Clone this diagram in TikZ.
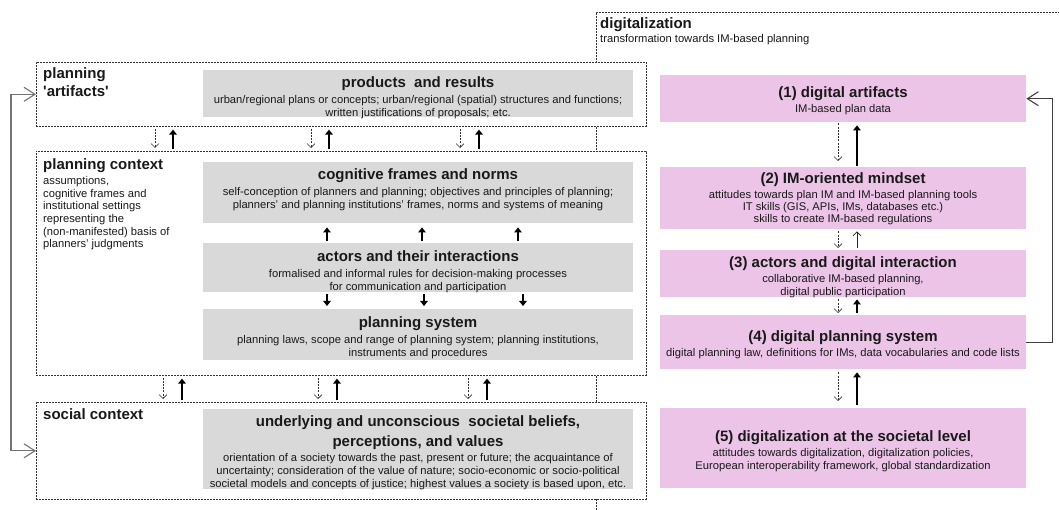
\documentclass[tikz,border=0pt]{standalone}
\usepackage{fontspec}
\setmainfont{Liberation Sans}
\usetikzlibrary{arrows.meta}
\definecolor{pinkbox}{RGB}{236,196,232}
\definecolor{graybox}{RGB}{217,217,217}
\newcommand{\ttl}{\fontsize{15}{17}\selectfont\bfseries}
\newcommand{\sml}{\fontsize{11.2}{13}\selectfont}
\begin{document}
\begin{tikzpicture}[x=1pt,y=-1pt,
  frame/.style={draw=black!80, line width=0.6pt, dash pattern=on 2pt off 1pt, fill=white, inner sep=0pt, anchor=north west},
  gbox/.style={fill=graybox, inner sep=0pt, anchor=north west, minimum width=430pt},
  pbox/.style={fill=pinkbox, inner sep=0pt, anchor=north west, minimum width=366pt},
  txt/.style={align=center, inner sep=0pt, text=black!90, font=\sml},
  lbl/.style={align=left, inner sep=0pt, anchor=north west, text=black!90},
  dn/.style={draw=black!80, line width=0.65pt, dash pattern=on 2pt off 1.2pt, -{Straight Barb[length=4pt,width=8pt]}},
  upk/.style={draw=black, line width=1.8pt, -{Triangle[length=5pt,width=7.5pt]}},
  upt/.style={draw=black!85, line width=0.65pt, -{Straight Barb[length=4pt,width=8pt]}},
  fbl/.style={draw=black!55, line width=1.1pt, {Straight Barb[length=11pt,width=14pt]}-{Straight Barb[length=11pt,width=14pt]}},
  fbr/.style={draw=black!75, line width=1.1pt, -{Straight Barb[length=11pt,width=14pt]}},
  dline/.style={draw=black!80, line width=0.6pt, dash pattern=on 2pt off 1pt}
]
\useasboundingbox (0,0) rectangle (1059,510);
\fill[white] (0,0) rectangle (1059,510);

% digitalization frame
\coordinate (dgB) at (596,510);
\coordinate (dgC) at (596,12);
\coordinate (dgR) at (1059,12);
\draw[dline] (dgB) -- (dgC) -- (dgR);
\node[lbl, anchor=base west, font=\ttl] (dgT) at (600,29) {digitalization};
\node[lbl, anchor=base west, font=\sml] (dgS) at (600,43) {transformation towards IM-based planning};

% left frames
\node[frame, minimum width=610pt, minimum height=64pt] (art) at (36,62) {};
\node[frame, minimum width=610pt, minimum height=224pt] (ctx) at (36,151) {};
\node[frame, minimum width=610pt, minimum height=97pt] (soc) at (36,402) {};

\node[lbl, font=\ttl, anchor=base west] (artL) at (43,97) {planning\\[1pt]\textquotesingle artifacts\textquotesingle};
\node[lbl, font=\ttl, anchor=base west] (ctxL) at (43,170) {planning context};
\node[lbl, font=\sml, anchor=north west] (ctxD) at (43,176) {assumptions,\\[-0.3pt] cognitive frames and\\[-0.3pt] institutional settings\\[-0.3pt] representing the\\[-0.3pt] (non-manifested) basis of\\[-0.3pt] planners' judgments};
\node[lbl, font=\ttl, anchor=base west] (socL) at (43,419) {social context};

% gray boxes
\node[gbox, minimum height=47pt] (prod) at (203,70) {};
\node[gbox, minimum height=61pt] (cog) at (203,162) {};
\node[gbox, minimum height=49pt] (act) at (203,243) {};
\node[gbox, minimum height=51pt] (ps) at (203,309) {};
\node[gbox, minimum height=80pt] (und) at (203,409) {};

\node[txt] (prodT) at (418,98) {{\ttl products\ \ and results}\\[3pt]urban/regional plans or concepts; urban/regional (spatial) structures and functions;\\written justifications of proposals; etc.};
\node[txt] (cogT) at (418,190) {{\ttl cognitive frames and norms}\\[3pt]self-conception of planners and planning; objectives and principles of planning;\\planners' and planning institutions' frames, norms and systems of meaning};
\node[txt] (actT) at (418,271.5) {{\ttl actors and their interactions}\\[3pt]formalised and informal rules for decision-making processes\\for communication and participation};
\node[txt] (psT) at (418,337.5) {{\ttl planning system}\\[3pt]planning laws, scope and range of planning system; planning institutions,\\instruments and procedures};
\node[txt] (undT) at (418,452.5) {{\ttl underlying and unconscious\ \ societal beliefs,}\\[5pt]{\ttl perceptions, and values}\\[2pt]orientation of a society towards the past, present or future; the acquaintance of\\uncertainty; consideration of the value of nature; socio-economic or socio-political\\societal models and concepts of justice; highest values a society is based upon, etc.};

% pink boxes
\node[pbox, minimum height=47pt] (pk1) at (660,75) {};
\node[pbox, minimum height=62pt] (pk2) at (660,167) {};
\node[pbox, minimum height=47pt] (pk3) at (660,250) {};
\node[pbox, minimum height=54pt] (pk4) at (660,315) {};
\node[pbox, minimum height=80pt] (pk5) at (660,408) {};

\node[txt] (pk1T) at (843,101) {{\ttl (1) digital artifacts}\\[2pt]IM-based plan data};
\node[txt] (pk2T) at (843,198.5) {{\ttl (2) IM-oriented mindset}\\[2pt]attitudes towards plan IM and IM-based planning tools\\[-1pt]IT skills (GIS, APIs, IMs, databases etc.)\\[-1pt]skills to create IM-based regulations};
\node[txt] (pk3T) at (843,277) {{\ttl (3) actors and digital interaction}\\[2pt]collaborative IM-based planning,\\digital public participation};
\node[txt] (pk4T) at (843,345) {{\ttl (4) digital planning system}\\[2pt]digital planning law, definitions for IMs, data vocabularies and code lists};
\node[txt] (pk5T) at (843,451.5) {{\ttl (5) digitalization at the societal level}\\[2pt]attitudes towards digitalization, digitalization policies,\\European interoperability framework, global standardization};

% arrows between left frames
\foreach \a/\b in {119/137, 275/293, 424/443}{
  \draw[dn, shorten <=2pt, shorten >=3pt] ([xshift=\a pt]art.south west) -- ([xshift=\a pt]ctx.north west);
  \draw[upk, shorten <=2pt, shorten >=3pt] ([xshift=\b pt]ctx.north west) -- ([xshift=\b pt]art.south west);
}
\foreach \a/\b in {127/146, 282/301, 432/451}{
  \draw[dn, shorten <=2pt, shorten >=3pt] ([xshift=\a pt]ctx.south west) -- ([xshift=\a pt]soc.north west);
  \draw[upk, shorten <=2pt, shorten >=3pt] ([xshift=\b pt]soc.north west) -- ([xshift=\b pt]ctx.south west);
}
% inside planning context
\foreach \a in {124, 219, 315}{
  \draw[upk, shorten <=2pt, shorten >=4pt] ([xshift=\a pt]act.north west) -- ([xshift=\a pt]cog.south west);
}
\foreach \a in {124, 221, 320}{
  \draw[upk, shorten <=2pt, shorten >=3pt] ([xshift=\a pt]act.south west) -- ([xshift=\a pt]ps.north west);
}

% right side arrows
\draw[dn, shorten <=1pt, shorten >=6pt] ([xshift=178pt]pk1.south west) -- ([xshift=178pt]pk2.north west);
\draw[upk, shorten <=1pt, shorten >=3pt] ([xshift=197pt]pk2.north west) -- ([xshift=197pt]pk1.south west);
\draw[dn, shorten <=2pt, shorten >=2pt] ([xshift=178pt]pk2.south west) -- ([xshift=178pt]pk3.north west);
\draw[upt, shorten <=2pt, shorten >=2pt] ([xshift=197pt]pk3.north west) -- ([xshift=197pt]pk2.south west);
\draw[dn, shorten <=2pt, shorten >=2pt] ([xshift=178pt]pk3.south west) -- ([xshift=178pt]pk4.north west);
\draw[upk, shorten <=2pt, shorten >=2pt] ([xshift=197pt]pk4.north west) -- ([xshift=197pt]pk3.south west);
\draw[dn, shorten <=3pt, shorten >=7pt] ([xshift=178pt]pk4.south west) -- ([xshift=178pt]pk5.north west);
\draw[upk, shorten <=3pt, shorten >=3pt] ([xshift=197pt]pk5.north west) -- ([xshift=197pt]pk4.south west);

% feedback connectors
\draw[fbl] (art.west) -- ++(-25,0) |- (soc.west);
\draw[fbr] (pk4.east) -- ++(26,0) |- (pk1.east);
\end{tikzpicture}
\end{document}
